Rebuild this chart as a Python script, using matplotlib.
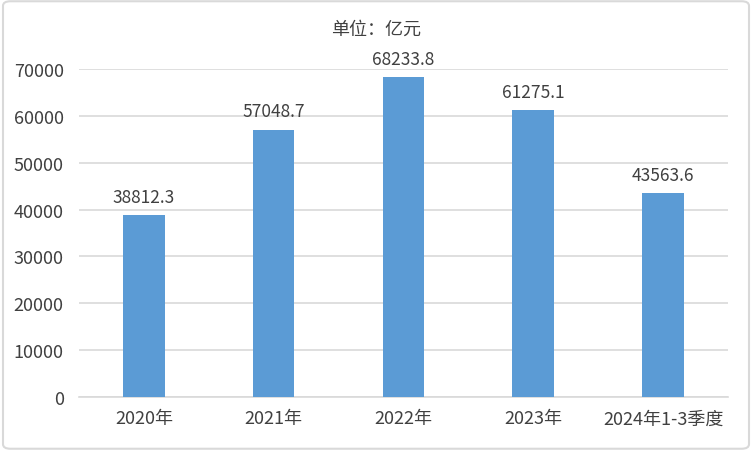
import matplotlib
matplotlib.use("Agg")
import matplotlib.pyplot as plt
from matplotlib.patches import FancyBboxPatch

plt.rcParams['font.family'] = ['Noto Sans CJK SC', 'DejaVu Sans']

# data
categories = ['2020年', '2021年', '2022年', '2023年', '2024年1-3季度']
values = [38812.3, 57048.7, 68233.8, 61275.1, 43563.6]
yticks = [0, 10000, 20000, 30000, 40000, 50000, 60000, 70000]

fig = plt.figure(figsize=(7.52, 4.52), dpi=100)
ax = fig.add_axes([0.105, 0.1195, 0.863, 0.7255])

x = range(len(categories))
ax.bar(x, values, width=0.32, color='#5B9BD5', zorder=3)
for xi, v in zip(x, values):
    ax.text(xi, v + 2000, f'{v:.1f}', ha='center', va='bottom',
            fontsize=12.5, color='#404040')

ax.set_xlim(-0.5, len(categories) - 0.5)
ax.set_ylim(0, 70000)
ax.set_yticks(yticks)
ax.set_yticklabels([str(t) for t in yticks])
ax.set_xticks(list(x))
ax.set_xticklabels(categories)
ax.tick_params(axis='both', length=0, labelsize=13, colors='#404040')
ax.tick_params(axis='x', pad=9)
ax.tick_params(axis='y', pad=11)
ax.grid(axis='y', color='#d9d9d9', linewidth=1.2, zorder=0)
for s in ['top', 'right', 'left']:
    ax.spines[s].set_visible(False)
ax.spines['bottom'].set_color('#d9d9d9')
ax.spines['bottom'].set_linewidth(1.2)

fig.text(0.5, 0.935, '单位：亿元', ha='center', va='center', fontsize=13, color='#404040')

# outer border
border = FancyBboxPatch((0.004, 0.005), 0.992, 0.99, boxstyle='round,pad=0,rounding_size=0.01',
                        transform=fig.transFigure, fill=False, edgecolor='#d9d9d9', linewidth=1.5)
fig.patches.append(border)

fig.savefig('out.png', dpi=100)
